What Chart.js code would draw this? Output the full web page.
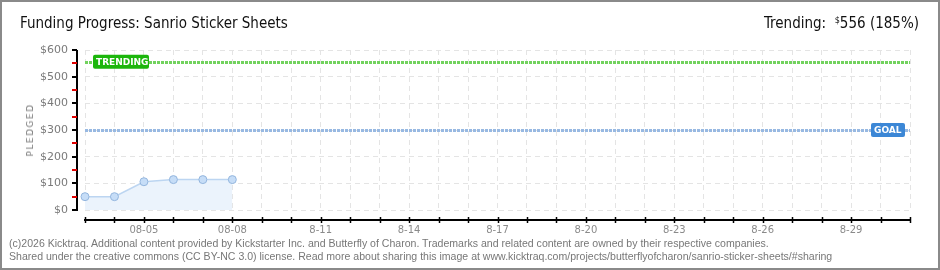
<!DOCTYPE html>
<html>
<head>
<meta charset="utf-8">
<script src="https://cdn.jsdelivr.net/npm/chart.js@4/dist/chart.umd.min.js"></script>
<style>
  html, body { margin: 0; padding: 0; background: #fff; }
  #wrap { position: relative; width: 940px; height: 270px; overflow: hidden; background: #fff; }
  #wrap canvas { position: absolute; left: 0; top: 0; }
  #frame { position: absolute; left: 0; top: 0; width: 936px; height: 266px; border: 2px solid #8a8a8a; pointer-events: none; }
  .title { position: absolute; left: 20px; top: 14px; font: 15px "DejaVu Sans Condensed", sans-serif; color: #111; white-space: nowrap; }
  .trend { position: absolute; right: 21px; top: 14px; font: 15px "DejaVu Sans Condensed", sans-serif; color: #111; white-space: nowrap; }
  .trend sup { font-size: 9px; vertical-align: 5px; }
  .ylab { position: absolute; left: 30px; top: 130px; transform: translate(-50%, -50%) rotate(-90deg); font: 9px "DejaVu Sans", sans-serif; letter-spacing: 1.5px; color: #777; white-space: nowrap; }
  .foot { position: absolute; left: 9px; font: 10.55px "Liberation Sans", sans-serif; color: #777; white-space: nowrap; }
</style>
</head>
<body>
<div id="wrap">
  <canvas id="c" width="940" height="270"></canvas>
  <div class="title">Funding Progress: Sanrio Sticker Sheets</div>
  <div class="trend">Trending:&nbsp; <sup>$</sup>556 (185%)</div>
  <div class="ylab">PLEDGED</div>
  <div class="foot" style="top:237px">(c)2026 Kicktraq. Additional content provided by Kickstarter Inc. and Butterfly of Charon. Trademarks and related content are owned by their respective companies.</div>
  <div class="foot" style="top:250px">Shared under the creative commons (CC BY-NC 3.0) license. Read more about sharing this image at www.kicktraq.com/projects/butterflyofcharon/sanrio-sticker-sheets/#sharing</div>
  <div id="frame"></div>
</div>
<script>
// ---- data ----
const dates = ['08-03','08-04','08-05','08-06','08-07','08-08','08-09','08-10','08-11','08-12','08-13','08-14','08-15','08-16','08-17','08-18','08-19','08-20','08-21','08-22','08-23','08-24','08-25','08-26','08-27','08-28','08-29','08-30','08-31'];
const tickLabels = ['','','08-05','','','08-08','','','8-11','','','8-14','','','8-17','','','8-20','','','8-23','','','8-26','','','8-29','',''];
const pledged = [50, 50, 106, 114, 114, 114];
const goalValue = 300;
const trendingValue = 556;
const yTicks = [0, 100, 200, 300, 400, 500, 600];

function roundRect(ctx, x, y, w, h, r) {
  ctx.beginPath();
  ctx.moveTo(x + r, y);
  ctx.lineTo(x + w - r, y);
  ctx.quadraticCurveTo(x + w, y, x + w, y + r);
  ctx.lineTo(x + w, y + h - r);
  ctx.quadraticCurveTo(x + w, y + h, x + w - r, y + h);
  ctx.lineTo(x + r, y + h);
  ctx.quadraticCurveTo(x, y + h, x, y + h - r);
  ctx.lineTo(x, y + r);
  ctx.quadraticCurveTo(x, y, x + r, y);
  ctx.closePath();
}

const overlay = {
  id: 'overlay',
  beforeDatasetsDraw(chart) {
    const { ctx, chartArea: a, scales: { x, y } } = chart;
    ctx.save();
    const lines = [
      { v: trendingValue, c: '#72d25e' },
      { v: goalValue, c: '#98b9e2' }
    ];
    ctx.lineWidth = 3;
    ctx.setLineDash([3, 1]);
    lines.forEach(l => {
      const py = Math.round(y.getPixelForValue(l.v)) + 0.5;
      ctx.strokeStyle = l.c;
      ctx.beginPath(); ctx.moveTo(a.left, py); ctx.lineTo(a.right, py); ctx.stroke();
    });
    ctx.restore();
  },
  afterDraw(chart) {
    const { ctx, chartArea: a, scales: { x, y } } = chart;
    ctx.save();
    const ax = a.left - 8;
    ctx.strokeStyle = '#000'; ctx.lineWidth = 2;
    ctx.beginPath(); ctx.moveTo(ax, a.top); ctx.lineTo(ax, a.bottom + 1); ctx.stroke();
    yTicks.forEach(v => {
      const py = Math.round(y.getPixelForValue(v));
      ctx.strokeStyle = '#000'; ctx.lineWidth = 2;
      ctx.beginPath(); ctx.moveTo(ax - 5, py); ctx.lineTo(ax, py); ctx.stroke();
      if (v < 600) {
        const pm = Math.round(y.getPixelForValue(v + 50));
        ctx.strokeStyle = '#e00000'; ctx.lineWidth = 2;
        ctx.beginPath(); ctx.moveTo(ax - 5, pm); ctx.lineTo(ax, pm); ctx.stroke();
      }
    });
    const ay = a.bottom + 10;
    ctx.strokeStyle = '#000'; ctx.lineWidth = 2;
    ctx.beginPath(); ctx.moveTo(a.left - 1, ay); ctx.lineTo(a.right + 1, ay); ctx.stroke();
    ctx.lineWidth = 1.5;
    dates.forEach((d, i) => {
      const px = Math.round(x.getPixelForValue(i)) + 0.5;
      ctx.beginPath(); ctx.moveTo(px, ay - 3); ctx.lineTo(px, ay + 3); ctx.stroke();
    });
    const boxes = [
      { text: 'TRENDING', v: trendingValue, x0: a.left + 8, w: 56, c: '#1cb60c' },
      { text: 'GOAL', v: goalValue, x0: a.right - 39, w: 34, c: '#3c87d6' }
    ];
    boxes.forEach(b => {
      const py = y.getPixelForValue(b.v);
      ctx.fillStyle = b.c;
      roundRect(ctx, b.x0, py - 7, b.w, 14, 2);
      ctx.fill();
      ctx.fillStyle = '#fff';
      ctx.font = 'bold 9px "DejaVu Sans", sans-serif';
      ctx.textBaseline = 'middle';
      ctx.textAlign = 'left';
      ctx.fillText(b.text, b.x0 + 3, py + 0.5);
    });
    ctx.restore();
  }
};

new Chart(document.getElementById('c'), {
  type: 'line',
  data: {
    labels: dates,
    datasets: [{
      data: pledged,
      borderColor: '#bcd5f1',
      borderWidth: 1.5,
      backgroundColor: '#ebf3fc',
      fill: 'origin',
      tension: 0,
      pointRadius: 4,
      pointBorderWidth: 1,
      pointBackgroundColor: '#c6ddf7',
      pointBorderColor: '#94b6de'
    }]
  },
  options: {
    responsive: false,
    animation: false,
    events: [],
    layout: { padding: { left: 0, top: 50, right: 30, bottom: 0 } },
    plugins: { legend: { display: false }, tooltip: { enabled: false }, title: { display: false } },
    scales: {
      x: {
        type: 'category',
        offset: false,
        afterFit(s) { s.height = 60; },
        grid: { color: '#e4e4e4', lineWidth: 1, drawTicks: false },
        border: { display: false, dash: [5, 4] },
        ticks: {
          autoSkip: false, maxRotation: 0, padding: 14,
          color: '#8a8a8a',
          font: { family: '"DejaVu Sans", sans-serif', size: 10 },
          callback: (v, i) => tickLabels[i]
        }
      },
      y: {
        min: 0, max: 600,
        afterFit(s) { s.width = 85; },
        afterBuildTicks(s) { s.ticks = yTicks.map(v => ({ value: v })); },
        grid: { color: '#e4e4e4', lineWidth: 1, drawTicks: false },
        border: { display: false, dash: [5, 4] },
        ticks: {
          padding: 17,
          color: '#7a7a7a',
          font: { family: '"DejaVu Sans", sans-serif', size: 11 },
          callback: v => '$' + v
        }
      }
    }
  },
  plugins: [overlay]
});
</script>
</body>
</html>
